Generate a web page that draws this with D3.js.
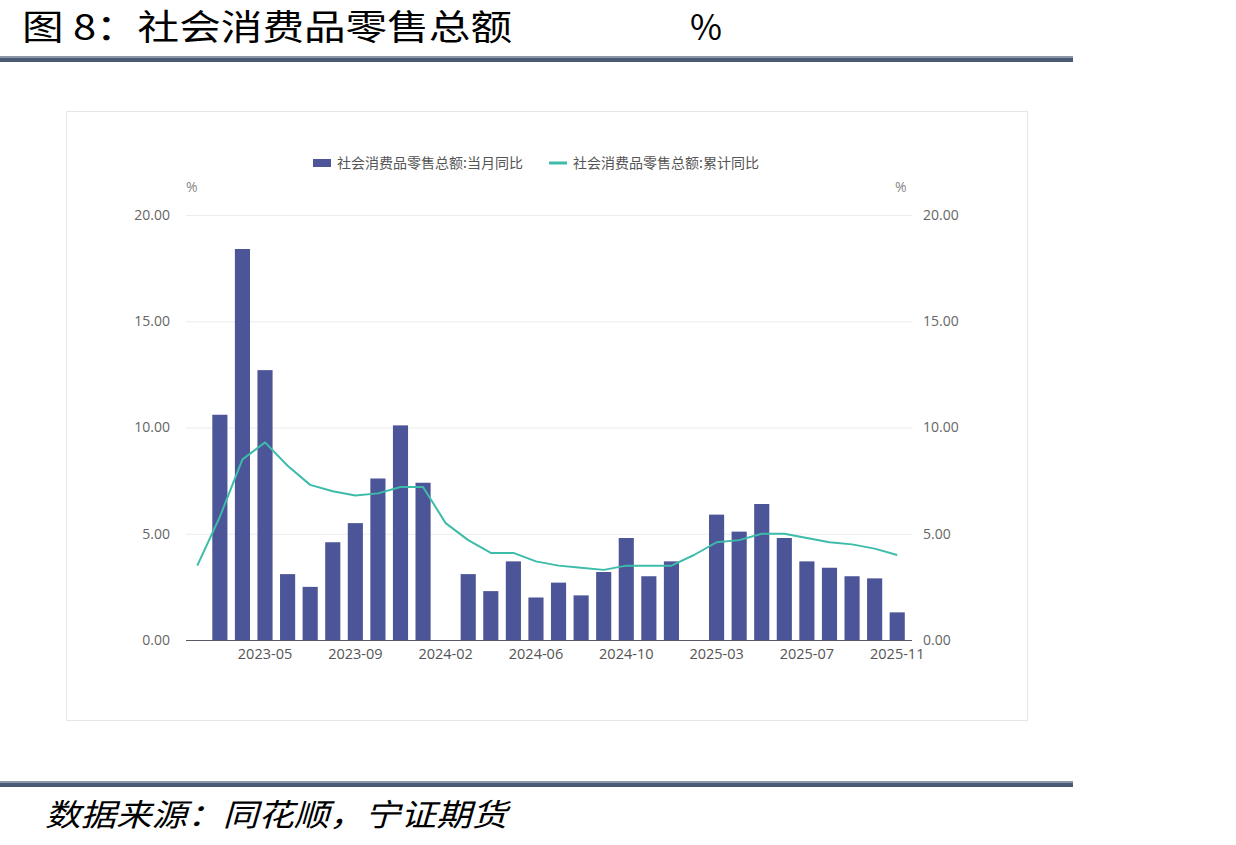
<!DOCTYPE html>
<html>
<head>
<meta charset="utf-8">
<script src="https://cdn.jsdelivr.net/npm/d3@7"></script>
<style>
  html, body { margin: 0; padding: 0; background: #fff; }
  svg { display: block; font-family: "Noto Sans CJK SC", "Noto Sans", sans-serif; }
</style>
</head>
<body>
<div id="chart"></div>
<script>
// 社会消费品零售总额 当月同比 / 累计同比
const months = [
  "2023-02", "2023-03", "2023-04", "2023-05", "2023-06", "2023-07", "2023-08", "2023-09", "2023-10", "2023-11", "2023-12",
  "2024-02", "2024-03", "2024-04", "2024-05", "2024-06", "2024-07", "2024-08", "2024-09", "2024-10", "2024-11", "2024-12",
  "2025-02", "2025-03", "2025-04", "2025-05", "2025-06", "2025-07", "2025-08", "2025-09", "2025-10", "2025-11"
];
// 当月同比 (no value for Jan-Feb months)
const monthlyYoY = [
  null, 10.6, 18.4, 12.7, 3.1, 2.5, 4.6, 5.5, 7.6, 10.1, 7.4,
  null, 3.1, 2.3, 3.7, 2.0, 2.7, 2.1, 3.2, 4.8, 3.0, 3.7,
  null, 5.9, 5.1, 6.4, 4.8, 3.7, 3.4, 3.0, 2.9, 1.3
];
// 累计同比
const cumulativeYoY = [
  3.5, 5.8, 8.5, 9.3, 8.2, 7.3, 7.0, 6.8, 6.9, 7.2, 7.2,
  5.5, 4.7, 4.1, 4.1, 3.7, 3.5, 3.4, 3.3, 3.5, 3.5, 3.5,
  4.0, 4.6, 4.7, 5.0, 5.0, 4.8, 4.6, 4.5, 4.3, 4.0
];
const xTickLabels = ["2023-05", "2023-09", "2024-02", "2024-06", "2024-10", "2025-03", "2025-07", "2025-11"];
const yTicks = [0, 5, 10, 15, 20];
const seriesNames = ["社会消费品零售总额:当月同比", "社会消费品零售总额:累计同比"];

const W = 1236, H = 845;
const barColor = "#4b5597";
const lineColor = "#3dbcaa";
const rule = "#4b5a73";
const numFont = "\"Open Sans\", \"Noto Sans\", sans-serif";

const svg = d3.select("#chart").append("svg")
  .attr("width", W).attr("height", H);

// title (reference glyphs are stretched horizontally)
svg.append("text")
  .attr("x", 22).attr("y", 40)
  .attr("font-size", 35).attr("fill", "#000")
  .attr("textLength", 490).attr("lengthAdjust", "spacingAndGlyphs")
  .text("图 8：社会消费品零售总额");
svg.append("text")
  .attr("x", 690).attr("y", 40)
  .attr("font-size", 35).attr("fill", "#000")
  .attr("textLength", 32).attr("lengthAdjust", "spacingAndGlyphs")
  .text("%");

// header / footer rules
svg.append("rect").attr("x", 0).attr("y", 56).attr("width", 1073).attr("height", 2).attr("fill", "#8a96aa");
svg.append("rect").attr("x", 0).attr("y", 58).attr("width", 1073).attr("height", 4).attr("fill", rule);
svg.append("rect").attr("x", 0).attr("y", 781).attr("width", 1073).attr("height", 2).attr("fill", "#8a96aa");
svg.append("rect").attr("x", 0).attr("y", 783).attr("width", 1073).attr("height", 4).attr("fill", rule);

// source
svg.append("text")
  .attr("x", 45).attr("y", 826)
  .attr("font-size", 31).attr("font-style", "italic").attr("fill", "#000")
  .attr("textLength", 462).attr("lengthAdjust", "spacingAndGlyphs")
  .text("数据来源：同花顺，宁证期货");

// chart frame
svg.append("rect")
  .attr("x", 66.5).attr("y", 111.5).attr("width", 961).attr("height", 609)
  .attr("fill", "#fff").attr("stroke", "#e6e6e6");

const plot = { left: 186, right: 912, top: 215, bottom: 640 };

const x = d3.scaleBand()
  .domain(months)
  .range([186, 908.5])
  .paddingInner(0.33)
  .paddingOuter(0.165);

const y = d3.scaleLinear().domain([0, 20]).range([plot.bottom, plot.top]);

// grid
svg.append("g")
  .selectAll("line")
  .data(yTicks.filter(d => d > 0))
  .join("line")
  .attr("x1", plot.left).attr("x2", plot.right)
  .attr("y1", d => y(d) + 0.5).attr("y2", d => y(d) + 0.5)
  .attr("stroke", "#ececf0");

// left / right axis labels
const fmt = d3.format(".2f");
svg.append("g")
  .attr("transform", `translate(${plot.left - 13},0)`)
  .call(d3.axisLeft(y).tickValues(yTicks).tickFormat(fmt).tickSize(0))
  .call(g => g.select(".domain").remove())
  .call(g => g.selectAll("text").attr("font-size", 14).attr("fill", "#666").attr("font-family", numFont));

svg.append("g")
  .attr("transform", `translate(${plot.right + 8},0)`)
  .call(d3.axisRight(y).tickValues(yTicks).tickFormat(fmt).tickSize(0))
  .call(g => g.select(".domain").remove())
  .call(g => g.selectAll("text").attr("font-size", 14).attr("fill", "#666").attr("font-family", numFont));

// unit labels
svg.append("text").attr("x", 186).attr("y", 192).attr("font-size", 14).attr("fill", "#888").attr("font-family", numFont).text("%");
svg.append("text").attr("x", 895).attr("y", 192).attr("font-size", 14).attr("fill", "#888").attr("font-family", numFont).text("%");

// bars
svg.append("g")
  .selectAll("rect")
  .data(months.map((m, i) => ({ m, v: monthlyYoY[i] })).filter(d => d.v !== null))
  .join("rect")
  .attr("x", d => x(d.m))
  .attr("width", x.bandwidth())
  .attr("y", d => y(d.v))
  .attr("height", d => y(0) - y(d.v))
  .attr("fill", barColor);

// x axis
svg.append("g")
  .attr("transform", `translate(0,${plot.bottom})`)
  .call(d3.axisBottom(x).tickValues(xTickLabels).tickSize(0).tickPadding(9))
  .call(g => g.select(".domain").attr("d", `M${plot.left},0.5H${plot.right}`).attr("stroke", "#5a5a66"))
  .call(g => g.selectAll("text").attr("font-size", 14.5).attr("fill", "#555").attr("font-family", numFont));

// cumulative line
const line = d3.line()
  .x((d, i) => x(months[i]) + x.bandwidth() / 2)
  .y(d => y(d));
svg.append("path")
  .datum(cumulativeYoY)
  .attr("d", line)
  .attr("fill", "none")
  .attr("stroke", lineColor)
  .attr("stroke-width", 2)
  .attr("stroke-linejoin", "round");

// legend
const legend = svg.append("g").attr("font-size", 14).attr("fill", "#555");
legend.append("rect").attr("x", 313).attr("y", 159).attr("width", 18).attr("height", 8).attr("fill", barColor);
legend.append("text").attr("x", 337).attr("y", 168).text(seriesNames[0]);
legend.append("line").attr("x1", 549).attr("x2", 567).attr("y1", 163).attr("y2", 163)
  .attr("stroke", lineColor).attr("stroke-width", 3);
legend.append("text").attr("x", 573).attr("y", 168).text(seriesNames[1]);
</script>
</body>
</html>
